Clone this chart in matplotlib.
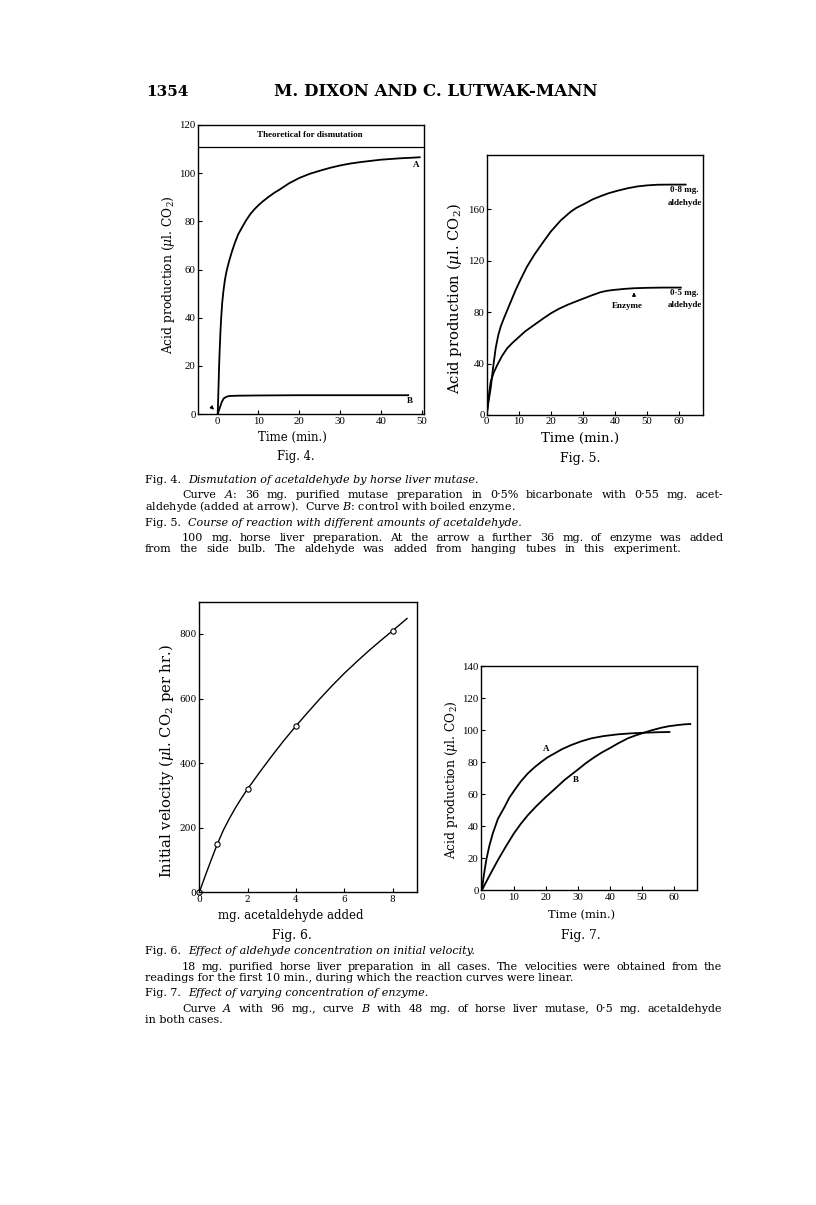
import matplotlib
matplotlib.use('Agg')
from matplotlib import pyplot as plt

plt.rcParams['mathtext.fontset'] = 'dejavuserif'

W, H = 816, 1205

# Fig. 4 - dismutation of acetaldehyde
f4_a_x = [0, 0.1, 0.2, 0.35, 0.5, 0.7, 0.9, 1.1, 1.4, 1.8, 2.2, 2.8, 3.5, 4.2, 5, 6, 7, 8, 9, 10, 11,
          12.5, 14, 15, 17.5, 20, 22.5, 25, 27.5, 30, 32.5, 35, 37.5, 40, 42.5, 45, 47.5, 49.5]
f4_a_y = [0, 5, 11, 20, 27, 35, 41, 46, 51, 56, 59.5, 63.5, 67.5, 71, 74.5, 77.6, 80.5, 83, 85, 86.7, 88.2,
          90.2, 92, 93, 95.8, 98, 99.7, 101, 102.2, 103.2, 104, 104.6, 105.1, 105.6, 105.9, 106.2, 106.4, 106.6]
f4_b_x = [0, 0.3, 0.6, 1.0, 1.5, 2.2, 3, 5, 10, 20, 30, 40, 46.7]
f4_b_y = [0, 1.5, 3, 5, 6.5, 7.2, 7.5, 7.6, 7.7, 7.8, 7.8, 7.8, 7.8]
f4_theoretical = 111

# Fig. 5 - different amounts of acetaldehyde
f5_hi_x = [0, 0.6, 1.25, 2, 2.8, 3.6, 4.4, 5.5, 6.5, 7.5, 9, 10.6, 12.5, 14.8, 17.5, 20, 23, 26.2,
           28, 30.4, 33, 35.5, 38, 40.7, 44, 47, 50, 53.2, 57, 62]
f5_hi_y = [0, 11, 21, 37, 52, 62, 69, 76, 82, 88, 97, 105.5, 115, 124.4, 134, 142.6, 151, 158,
           161, 164, 167.5, 170, 172.3, 174.2, 176.2, 177.6, 178.4, 178.9, 179, 179]
f5_lo_x = [0, 0.6, 1.25, 2.2, 3.3, 4.8, 6.4, 8, 9.6, 12, 14.8, 17.5, 20, 22.5, 25.2, 28, 30.4,
           33, 35.5, 37.5, 39.7, 43, 46, 50, 55, 60.5]
f5_lo_y = [0, 14, 25.9, 33, 38.9, 46, 51.9, 56, 59.6, 65, 70, 74.8, 79, 82.5, 85.6, 88.4, 90.7,
           93.2, 95.4, 96.5, 97.2, 98, 98.5, 98.8, 99, 99]

# Fig. 6 - initial velocity vs aldehyde
f6_pts_x = [0, 0.75, 2, 4, 8]
f6_pts_y = [0, 150, 320, 515, 810]
f6_curve_x = [0, 0.25, 0.5, 0.75, 1, 1.25, 1.5, 1.75, 2, 2.5, 3, 3.5, 4, 4.5, 5, 5.5, 6, 6.5,
              7, 7.5, 8, 8.3, 8.6]
f6_curve_y = [0, 52, 102, 150, 193, 229, 262, 292, 320, 372, 422, 470, 515, 558, 600, 640, 678, 713,
              747, 779, 810, 829, 848]

# Fig. 7 - enzyme concentration
f7_a_x = [0, 0.5, 1.35, 2.3, 3.4, 5, 7.1, 8.5, 10.2, 12.2, 14.4, 16.5, 18.5, 20.5, 22.7, 25, 27.9,
          31, 34.2, 38, 42.5, 46.5, 50.8, 55, 58.6]
f7_a_y = [0, 8, 18.75, 27.5, 35.4, 44.5, 52, 57.5, 62.5, 68, 73, 76.8, 80, 82.9, 85.4, 88, 90.6,
          92.9, 94.8, 96.2, 97.3, 97.9, 98.3, 98.6, 98.75]
f7_b_x = [0, 2.5, 5, 7.5, 10, 12.2, 14.4, 17, 20, 23, 25.8, 28, 30, 32.5, 35.2, 37.5, 40, 42.5,
          45.6, 48, 50, 53, 56, 58.5, 61.25, 63, 65.1]
f7_b_y = [0, 9.5, 18.75, 27.3, 35.4, 41.5, 46.9, 52.4, 58.2, 63.6, 68.75, 72.2, 75.3, 79.3, 83.1, 86,
          88.7, 91.6, 94.8, 96.6, 97.9, 99.8, 101.4, 102.4, 103.1, 103.5, 103.75]

SERIF = 'DejaVu Serif'
TICKF = 'Liberation Serif'

fig = plt.figure(figsize=(W / 100, H / 100), dpi=100)
page = fig.add_axes([0, 0, 1, 1])
page.set_xlim(0, W)
page.set_ylim(H, 0)
page.axis('off')


def box(l, t, r, b):
    return [l / W, 1 - b / H, (r - l) / W, (b - t) / H]


def panel(rect, xlim, ylim, xticks, yticks, font=TICKF, size=7.8):
    ax = fig.add_axes(box(*rect))
    ax.set_xlim(*xlim)
    ax.set_ylim(*ylim)
    ax.set_xticks(xticks)
    ax.set_yticks(yticks)
    ax.tick_params(direction='in', length=3, width=0.8, pad=2, labelsize=size)
    for lab in ax.get_xticklabels() + ax.get_yticklabels():
        lab.set_family(font)
    for s in ax.spines.values():
        s.set_linewidth(1.0)
    return ax


def put(x, y, s, size=8, family=SERIF, **kw):
    kw.setdefault('ha', 'center')
    kw.setdefault('va', 'center')
    return page.text(x, y, s, fontsize=size, family=family, **kw)


def note(ax, x, y, s):
    ax.text(x, y, s, family=TICKF, fontsize=6.5, ha='center', va='center', weight='bold')


# header
put(146, 92, '1354', size=11, weight='bold', ha='left')
put(436, 92, 'M. DIXON AND C. LUTWAK-MANN', size=12, weight='bold')

# Fig. 4
ax4 = panel((198.3, 125, 424, 414), (-4.75, 50.56), (0, 120),
            range(0, 51, 10), range(0, 121, 20))
ax4.plot(f4_a_x, f4_a_y, color='black', lw=1.3)
ax4.plot(f4_b_x, f4_b_y, color='black', lw=1.3)
ax4.axhline(f4_theoretical, color='black', lw=0.9)
note(ax4, 22.5, 115.8, 'Theoretical for dismutation')
note(ax4, 48.7, 103.5, 'A')
note(ax4, 47, 5.2, 'B')
ax4.annotate('', xy=(-0.4, 1.0), xytext=(-2.0, 3.6),
             arrowprops=dict(arrowstyle='-|>', color='black', lw=0.8, mutation_scale=5))
put(168.3, 275, 'Acid production ($\\mu$l. CO$_2$)', size=8.8, rotation=90)
put(292.5, 437.7, 'Time (min.)', size=8.5)
put(295.8, 456.7, 'Fig. 4.', size=8.3)

# Fig. 5
ax5 = panel((486.7, 155, 703.3, 415), (0, 67.5), (0, 202),
            range(0, 61, 10), range(0, 161, 40))
ax5.tick_params(pad=1.5)
ax5.plot(f5_hi_x, f5_hi_y, color='black', lw=1.3)
ax5.plot(f5_lo_x, f5_lo_y, color='black', lw=1.3)
note(ax5, 61.7, 175, '0·8 mg.')
note(ax5, 61.7, 164.6, 'aldehyde')
note(ax5, 61.7, 94.6, '0·5 mg.')
note(ax5, 61.7, 85.6, 'aldehyde')
note(ax5, 43.9, 85, 'Enzyme')
ax5.annotate('', xy=(45.9, 97.5), xytext=(45.9, 90.5),
             arrowprops=dict(arrowstyle='-|>', color='black', lw=0.8, mutation_scale=5))
put(455, 298.3, 'Acid production ($\\mu$l. CO$_2$)', size=10.6, rotation=90)
put(580, 438.3, 'Time (min.)', size=9.6)
put(580, 458.3, 'Fig. 5.', size=9)

# Fig. 6
ax6 = panel((199.3, 601.7, 416.7, 892.3), (0, 9), (0, 900),
            range(0, 9, 2), range(0, 801, 200), font=SERIF, size=6.5)
ax6.plot(f6_curve_x, f6_curve_y, color='black', lw=1.0)
ax6.plot(f6_pts_x, f6_pts_y, 'o', ms=3.8, mfc='white', mec='black', mew=0.8, clip_on=False)
put(166.7, 760.7, 'Initial velocity ($\\mu$l. CO$_2$ per hr.)', size=10.6, rotation=90)
put(290.8, 915, 'mg. acetaldehyde added', size=8.5)
put(291.7, 935, 'Fig. 6.', size=8.8)

# Fig. 7
ax7 = panel((481.3, 666, 697.3, 890), (-0.2, 67.3), (0, 140),
            range(0, 61, 10), range(0, 141, 20))
ax7.plot(f7_a_x, f7_a_y, color='black', lw=1.3)
ax7.plot(f7_b_x, f7_b_y, color='black', lw=1.3)
note(ax7, 20.1, 88.4, 'A')
note(ax7, 29.3, 69, 'B')
put(451.7, 780, 'Acid production ($\\mu$l. CO$_2$)', size=8.8, rotation=90)
put(582, 915, 'Time (min.)', size=8.2)
put(581, 936, 'Fig. 7.', size=8.8)

# captions
CAP = 8.0
renderer = fig.canvas.get_renderer()


def heading(y, num, title):
    t = put(145, y, num, size=CAP, ha='left', va='baseline')
    page.annotate(title, xy=(1, 0), xycoords=t, xytext=(5, 0), textcoords='offset points',
                  fontsize=CAP, family=SERIF, style='italic', ha='left', va='bottom')


def line(x0, y, s, x1=None):
    if x1 is None:
        put(x0, y, s, size=CAP, ha='left', va='baseline')
        return
    # justified line: spread the words between x0 and x1
    words = s.split()
    texts = [put(0, y, w, size=CAP, ha='left', va='baseline') for w in words]
    widths = [t.get_window_extent(renderer).width for t in texts]
    gap = (x1 - x0 - sum(widths)) / (len(words) - 1)
    x = x0
    for t, w in zip(texts, widths):
        t.set_x(x)
        x += w + gap


heading(483, 'Fig. 4.', 'Dismutation of acetaldehyde by horse liver mutase.')
line(182, 498.5, 'Curve $A$: 36 mg. purified mutase preparation in 0·5% bicarbonate with 0·55 mg. acet-', 723)
line(145, 510, 'aldehyde (added at arrow).  Curve $B$: control with boiled enzyme.')
heading(525.5, 'Fig. 5.', 'Course of reaction with different amounts of acetaldehyde.')
line(182, 541, '100 mg. horse liver preparation. At the arrow a further 36 mg. of enzyme was added', 724)
line(145, 552.5, 'from the side bulb. The aldehyde was added from hanging tubes in this experiment.', 681)

heading(954, 'Fig. 6.', 'Effect of aldehyde concentration on initial velocity.')
line(182, 969.5, '18 mg. purified horse liver preparation in all cases. The velocities were obtained from the', 722)
line(145, 981, 'readings for the first 10 min., during which the reaction curves were linear.')
heading(996.5, 'Fig. 7.', 'Effect of varying concentration of enzyme.')
line(182, 1011.5, 'Curve $A$ with 96 mg., curve $B$ with 48 mg. of horse liver mutase, 0·5 mg. acetaldehyde', 722)
line(145, 1023, 'in both cases.')

fig.savefig('out.png', dpi=100)
